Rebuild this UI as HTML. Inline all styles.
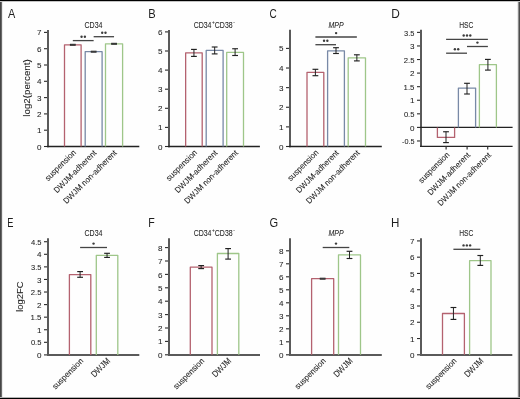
<!DOCTYPE html>
<html><head><meta charset="utf-8"><style>
html,body{margin:0;padding:0;background:#fff;}
svg{display:block;font-family:"Liberation Sans", sans-serif;will-change:transform;}
text{stroke:#1e1e1e;stroke-width:0.06px;}
text.L{stroke:none;}
text.T{stroke-width:0.06px;}
</style></head><body>
<svg width="520" height="399" viewBox="0 0 520 399">
<rect x="0" y="0" width="520" height="399" fill="#fefefe"/>
<line x1="48.00" y1="30.00" x2="48.00" y2="147.15" stroke="#5a5a5a" stroke-width="2" stroke-linecap="butt"/>
<line x1="44.00" y1="146.50" x2="47.00" y2="146.50" stroke="#2a2a2a" stroke-width="1.1" stroke-linecap="butt"/>
<text x="36.99" y="149.64" font-size="8.1" fill="#1e1e1e" textLength="4.51" lengthAdjust="spacingAndGlyphs" class="T">0</text>
<line x1="44.00" y1="130.20" x2="47.00" y2="130.20" stroke="#2a2a2a" stroke-width="1.1" stroke-linecap="butt"/>
<text x="37.07" y="133.29" font-size="8.1" fill="#1e1e1e" textLength="4.51" lengthAdjust="spacingAndGlyphs" class="T">1</text>
<line x1="44.00" y1="113.90" x2="47.00" y2="113.90" stroke="#2a2a2a" stroke-width="1.1" stroke-linecap="butt"/>
<text x="37.07" y="117.03" font-size="8.1" fill="#1e1e1e" textLength="4.51" lengthAdjust="spacingAndGlyphs" class="T">2</text>
<line x1="44.00" y1="97.60" x2="47.00" y2="97.60" stroke="#2a2a2a" stroke-width="1.1" stroke-linecap="butt"/>
<text x="37.07" y="100.73" font-size="8.1" fill="#1e1e1e" textLength="4.51" lengthAdjust="spacingAndGlyphs" class="T">3</text>
<line x1="44.00" y1="81.30" x2="47.00" y2="81.30" stroke="#2a2a2a" stroke-width="1.1" stroke-linecap="butt"/>
<text x="36.91" y="84.39" font-size="8.1" fill="#1e1e1e" textLength="4.51" lengthAdjust="spacingAndGlyphs" class="T">4</text>
<line x1="44.00" y1="65.00" x2="47.00" y2="65.00" stroke="#2a2a2a" stroke-width="1.1" stroke-linecap="butt"/>
<text x="37.07" y="68.09" font-size="8.1" fill="#1e1e1e" textLength="4.51" lengthAdjust="spacingAndGlyphs" class="T">5</text>
<line x1="44.00" y1="48.70" x2="47.00" y2="48.70" stroke="#2a2a2a" stroke-width="1.1" stroke-linecap="butt"/>
<text x="37.07" y="51.83" font-size="8.1" fill="#1e1e1e" textLength="4.51" lengthAdjust="spacingAndGlyphs" class="T">6</text>
<line x1="44.00" y1="32.40" x2="47.00" y2="32.40" stroke="#2a2a2a" stroke-width="1.1" stroke-linecap="butt"/>
<text x="37.07" y="35.49" font-size="8.1" fill="#1e1e1e" textLength="4.51" lengthAdjust="spacingAndGlyphs" class="T">7</text>
<line x1="47.00" y1="146.50" x2="139.30" y2="146.50" stroke="#222" stroke-width="1.3" stroke-linecap="butt"/>
<path d="M64.5 146.5 L64.5 44.8 L81.1 44.8 L81.1 146.5" fill="none" stroke="#b4626f" stroke-width="1.3" stroke-linejoin="round"/>
<path d="M85.2 146.5 L85.2 51.7 L102.1 51.7 L102.1 146.5" fill="none" stroke="#7889a6" stroke-width="1.3" stroke-linejoin="round"/>
<path d="M105.5 146.5 L105.5 43.8 L122.6 43.8 L122.6 146.5" fill="none" stroke="#9ec689" stroke-width="1.3" stroke-linejoin="round"/>
<line x1="69.90" y1="44.80" x2="75.70" y2="44.80" stroke="#2a2a2a" stroke-width="2.0" stroke-linecap="butt"/>
<line x1="70.50" y1="44.80" x2="75.10" y2="44.80" stroke="#555" stroke-width="0.5" stroke-linecap="butt"/>
<line x1="90.75" y1="51.70" x2="96.55" y2="51.70" stroke="#2a2a2a" stroke-width="2.0" stroke-linecap="butt"/>
<line x1="91.35" y1="51.70" x2="95.95" y2="51.70" stroke="#555" stroke-width="0.5" stroke-linecap="butt"/>
<line x1="111.15" y1="43.80" x2="116.95" y2="43.80" stroke="#2a2a2a" stroke-width="2.0" stroke-linecap="butt"/>
<line x1="111.75" y1="43.80" x2="116.35" y2="43.80" stroke="#555" stroke-width="0.5" stroke-linecap="butt"/>
<line x1="72.80" y1="40.60" x2="93.65" y2="40.60" stroke="#444" stroke-width="1.3" stroke-linecap="butt"/>
<circle cx="81.57" cy="36.70" r="1.2" fill="#3c3c3c"/>
<circle cx="84.88" cy="36.70" r="1.2" fill="#3c3c3c"/>
<line x1="93.65" y1="36.70" x2="114.05" y2="36.70" stroke="#444" stroke-width="1.3" stroke-linecap="butt"/>
<circle cx="102.20" cy="32.80" r="1.2" fill="#3c3c3c"/>
<circle cx="105.50" cy="32.80" r="1.2" fill="#3c3c3c"/>
<text x="84.45" y="27.95" font-size="8.6" fill="#1e1e1e" textLength="18.04" lengthAdjust="spacingAndGlyphs" class="T">CD34</text>
<text x="7.90" y="17.80" font-size="12.4" fill="#1e1e1e" textLength="7.28" lengthAdjust="spacingAndGlyphs" class="L">A</text>
<text x="-39.54" y="0" font-size="8.2" fill="#1e1e1e" textLength="40.09" lengthAdjust="spacingAndGlyphs" transform="translate(76.10 153.50) rotate(-45)">suspension</text>
<text x="-56.52" y="0" font-size="8.2" fill="#1e1e1e" textLength="56.60" lengthAdjust="spacingAndGlyphs" transform="translate(96.95 153.50) rotate(-45)">DWJM-adherent</text>
<text x="-71.82" y="0" font-size="8.2" fill="#1e1e1e" textLength="71.87" lengthAdjust="spacingAndGlyphs" transform="translate(117.35 153.50) rotate(-45)">DWJM non-adherent</text>
<line x1="169.00" y1="30.00" x2="169.00" y2="147.15" stroke="#5a5a5a" stroke-width="2" stroke-linecap="butt"/>
<line x1="165.00" y1="146.50" x2="168.00" y2="146.50" stroke="#2a2a2a" stroke-width="1.1" stroke-linecap="butt"/>
<text x="157.99" y="149.64" font-size="8.1" fill="#1e1e1e" textLength="4.51" lengthAdjust="spacingAndGlyphs" class="T">0</text>
<line x1="165.00" y1="127.40" x2="168.00" y2="127.40" stroke="#2a2a2a" stroke-width="1.1" stroke-linecap="butt"/>
<text x="158.07" y="130.49" font-size="8.1" fill="#1e1e1e" textLength="4.51" lengthAdjust="spacingAndGlyphs" class="T">1</text>
<line x1="165.00" y1="108.30" x2="168.00" y2="108.30" stroke="#2a2a2a" stroke-width="1.1" stroke-linecap="butt"/>
<text x="158.07" y="111.43" font-size="8.1" fill="#1e1e1e" textLength="4.51" lengthAdjust="spacingAndGlyphs" class="T">2</text>
<line x1="165.00" y1="89.20" x2="168.00" y2="89.20" stroke="#2a2a2a" stroke-width="1.1" stroke-linecap="butt"/>
<text x="158.07" y="92.33" font-size="8.1" fill="#1e1e1e" textLength="4.51" lengthAdjust="spacingAndGlyphs" class="T">3</text>
<line x1="165.00" y1="70.10" x2="168.00" y2="70.10" stroke="#2a2a2a" stroke-width="1.1" stroke-linecap="butt"/>
<text x="157.91" y="73.19" font-size="8.1" fill="#1e1e1e" textLength="4.51" lengthAdjust="spacingAndGlyphs" class="T">4</text>
<line x1="165.00" y1="51.00" x2="168.00" y2="51.00" stroke="#2a2a2a" stroke-width="1.1" stroke-linecap="butt"/>
<text x="158.07" y="54.09" font-size="8.1" fill="#1e1e1e" textLength="4.51" lengthAdjust="spacingAndGlyphs" class="T">5</text>
<line x1="165.00" y1="31.90" x2="168.00" y2="31.90" stroke="#2a2a2a" stroke-width="1.1" stroke-linecap="butt"/>
<text x="158.07" y="35.03" font-size="8.1" fill="#1e1e1e" textLength="4.51" lengthAdjust="spacingAndGlyphs" class="T">6</text>
<line x1="168.00" y1="146.50" x2="259.90" y2="146.50" stroke="#222" stroke-width="1.3" stroke-linecap="butt"/>
<path d="M185.65 146.5 L185.65 52.8 L202.2 52.8 L202.2 146.5" fill="none" stroke="#b4626f" stroke-width="1.3" stroke-linejoin="round"/>
<path d="M206.2 146.5 L206.2 50.4 L223.1 50.4 L223.1 146.5" fill="none" stroke="#7889a6" stroke-width="1.3" stroke-linejoin="round"/>
<path d="M226.7 146.5 L226.7 52.4 L243.5 52.4 L243.5 146.5" fill="none" stroke="#9ec689" stroke-width="1.3" stroke-linejoin="round"/>
<line x1="193.93" y1="49.40" x2="193.93" y2="56.40" stroke="#2a2a2a" stroke-width="1.05" stroke-linecap="butt"/>
<line x1="191.03" y1="49.40" x2="196.83" y2="49.40" stroke="#222" stroke-width="1.15" stroke-linecap="butt"/>
<line x1="191.03" y1="56.40" x2="196.83" y2="56.40" stroke="#222" stroke-width="1.15" stroke-linecap="butt"/>
<line x1="214.65" y1="47.00" x2="214.65" y2="53.90" stroke="#2a2a2a" stroke-width="1.05" stroke-linecap="butt"/>
<line x1="211.75" y1="47.00" x2="217.55" y2="47.00" stroke="#222" stroke-width="1.15" stroke-linecap="butt"/>
<line x1="211.75" y1="53.90" x2="217.55" y2="53.90" stroke="#222" stroke-width="1.15" stroke-linecap="butt"/>
<line x1="235.10" y1="48.75" x2="235.10" y2="55.50" stroke="#2a2a2a" stroke-width="1.05" stroke-linecap="butt"/>
<line x1="232.20" y1="48.75" x2="238.00" y2="48.75" stroke="#222" stroke-width="1.15" stroke-linecap="butt"/>
<line x1="232.20" y1="55.50" x2="238.00" y2="55.50" stroke="#222" stroke-width="1.15" stroke-linecap="butt"/>
<text x="193.65" y="27.95" font-size="8.6" fill="#1e1e1e" textLength="17.84" lengthAdjust="spacingAndGlyphs" class="T">CD34</text>
<text x="212.06" y="23.95" font-size="5.2" fill="#1e1e1e" textLength="2.80" lengthAdjust="spacingAndGlyphs" class="T">+</text>
<text x="214.85" y="27.95" font-size="8.6" fill="#1e1e1e" textLength="17.77" lengthAdjust="spacingAndGlyphs" class="T">CD38</text>
<text x="233.21" y="24.25" font-size="5.6" fill="#1e1e1e" textLength="1.60" lengthAdjust="spacingAndGlyphs" class="T">-</text>
<text x="148.31" y="17.80" font-size="12.4" fill="#1e1e1e" textLength="7.43" lengthAdjust="spacingAndGlyphs" class="L">B</text>
<text x="-39.54" y="0" font-size="8.2" fill="#1e1e1e" textLength="40.09" lengthAdjust="spacingAndGlyphs" transform="translate(197.23 153.50) rotate(-45)">suspension</text>
<text x="-56.52" y="0" font-size="8.2" fill="#1e1e1e" textLength="56.60" lengthAdjust="spacingAndGlyphs" transform="translate(217.95 153.50) rotate(-45)">DWJM-adherent</text>
<text x="-71.82" y="0" font-size="8.2" fill="#1e1e1e" textLength="71.87" lengthAdjust="spacingAndGlyphs" transform="translate(238.40 153.50) rotate(-45)">DWJM non-adherent</text>
<line x1="290.00" y1="29.80" x2="290.00" y2="147.15" stroke="#5a5a5a" stroke-width="2" stroke-linecap="butt"/>
<line x1="286.00" y1="146.50" x2="289.00" y2="146.50" stroke="#2a2a2a" stroke-width="1.1" stroke-linecap="butt"/>
<text x="278.99" y="149.64" font-size="8.1" fill="#1e1e1e" textLength="4.51" lengthAdjust="spacingAndGlyphs" class="T">0</text>
<line x1="286.00" y1="126.88" x2="289.00" y2="126.88" stroke="#2a2a2a" stroke-width="1.1" stroke-linecap="butt"/>
<text x="279.07" y="129.97" font-size="8.1" fill="#1e1e1e" textLength="4.51" lengthAdjust="spacingAndGlyphs" class="T">1</text>
<line x1="286.00" y1="107.26" x2="289.00" y2="107.26" stroke="#2a2a2a" stroke-width="1.1" stroke-linecap="butt"/>
<text x="279.07" y="110.39" font-size="8.1" fill="#1e1e1e" textLength="4.51" lengthAdjust="spacingAndGlyphs" class="T">2</text>
<line x1="286.00" y1="87.64" x2="289.00" y2="87.64" stroke="#2a2a2a" stroke-width="1.1" stroke-linecap="butt"/>
<text x="279.07" y="90.77" font-size="8.1" fill="#1e1e1e" textLength="4.51" lengthAdjust="spacingAndGlyphs" class="T">3</text>
<line x1="286.00" y1="68.02" x2="289.00" y2="68.02" stroke="#2a2a2a" stroke-width="1.1" stroke-linecap="butt"/>
<text x="278.91" y="71.11" font-size="8.1" fill="#1e1e1e" textLength="4.51" lengthAdjust="spacingAndGlyphs" class="T">4</text>
<line x1="286.00" y1="48.40" x2="289.00" y2="48.40" stroke="#2a2a2a" stroke-width="1.1" stroke-linecap="butt"/>
<text x="279.07" y="51.49" font-size="8.1" fill="#1e1e1e" textLength="4.51" lengthAdjust="spacingAndGlyphs" class="T">5</text>
<line x1="289.00" y1="146.50" x2="381.80" y2="146.50" stroke="#222" stroke-width="1.3" stroke-linecap="butt"/>
<path d="M307 146.5 L307 72.3 L323.8 72.3 L323.8 146.5" fill="none" stroke="#b4626f" stroke-width="1.3" stroke-linejoin="round"/>
<path d="M327.6 146.5 L327.6 50.8 L344.4 50.8 L344.4 146.5" fill="none" stroke="#7889a6" stroke-width="1.3" stroke-linejoin="round"/>
<path d="M348.2 146.5 L348.2 57.8 L365.5 57.8 L365.5 146.5" fill="none" stroke="#9ec689" stroke-width="1.3" stroke-linejoin="round"/>
<line x1="315.40" y1="69.30" x2="315.40" y2="75.70" stroke="#2a2a2a" stroke-width="1.05" stroke-linecap="butt"/>
<line x1="312.50" y1="69.30" x2="318.30" y2="69.30" stroke="#222" stroke-width="1.15" stroke-linecap="butt"/>
<line x1="312.50" y1="75.70" x2="318.30" y2="75.70" stroke="#222" stroke-width="1.15" stroke-linecap="butt"/>
<line x1="336.00" y1="47.70" x2="336.00" y2="53.50" stroke="#2a2a2a" stroke-width="1.05" stroke-linecap="butt"/>
<line x1="333.10" y1="47.70" x2="338.90" y2="47.70" stroke="#222" stroke-width="1.15" stroke-linecap="butt"/>
<line x1="333.10" y1="53.50" x2="338.90" y2="53.50" stroke="#222" stroke-width="1.15" stroke-linecap="butt"/>
<line x1="356.85" y1="54.80" x2="356.85" y2="60.90" stroke="#2a2a2a" stroke-width="1.05" stroke-linecap="butt"/>
<line x1="353.95" y1="54.80" x2="359.75" y2="54.80" stroke="#222" stroke-width="1.15" stroke-linecap="butt"/>
<line x1="353.95" y1="60.90" x2="359.75" y2="60.90" stroke="#222" stroke-width="1.15" stroke-linecap="butt"/>
<line x1="315.40" y1="44.70" x2="336.00" y2="44.70" stroke="#444" stroke-width="1.3" stroke-linecap="butt"/>
<circle cx="324.05" cy="40.80" r="1.2" fill="#3c3c3c"/>
<circle cx="327.35" cy="40.80" r="1.2" fill="#3c3c3c"/>
<line x1="315.40" y1="37.00" x2="356.85" y2="37.00" stroke="#444" stroke-width="1.3" stroke-linecap="butt"/>
<circle cx="336.12" cy="33.10" r="1.2" fill="#3c3c3c"/>
<text x="328.49" y="27.95" font-size="8.6" font-style="italic" fill="#1e1e1e" textLength="15.06" lengthAdjust="spacingAndGlyphs" class="T">MPP</text>
<text x="269.60" y="17.80" font-size="12.4" fill="#1e1e1e" textLength="7.22" lengthAdjust="spacingAndGlyphs" class="L">C</text>
<text x="-39.54" y="0" font-size="8.2" fill="#1e1e1e" textLength="40.09" lengthAdjust="spacingAndGlyphs" transform="translate(318.70 153.50) rotate(-45)">suspension</text>
<text x="-56.52" y="0" font-size="8.2" fill="#1e1e1e" textLength="56.60" lengthAdjust="spacingAndGlyphs" transform="translate(339.30 153.50) rotate(-45)">DWJM-adherent</text>
<text x="-71.82" y="0" font-size="8.2" fill="#1e1e1e" textLength="71.87" lengthAdjust="spacingAndGlyphs" transform="translate(360.15 153.50) rotate(-45)">DWJM non-adherent</text>
<line x1="421.00" y1="29.80" x2="421.00" y2="147.05" stroke="#5a5a5a" stroke-width="2" stroke-linecap="butt"/>
<line x1="417.00" y1="140.97" x2="420.00" y2="140.97" stroke="#2a2a2a" stroke-width="1.1" stroke-linecap="butt"/>
<text x="402.01" y="144.11" font-size="8.1" fill="#1e1e1e" textLength="12.50" lengthAdjust="spacingAndGlyphs" class="T">-0.5</text>
<line x1="417.00" y1="127.40" x2="420.00" y2="127.40" stroke="#2a2a2a" stroke-width="1.1" stroke-linecap="butt"/>
<text x="409.99" y="130.54" font-size="8.1" fill="#1e1e1e" textLength="4.51" lengthAdjust="spacingAndGlyphs" class="T">0</text>
<line x1="417.00" y1="113.83" x2="420.00" y2="113.83" stroke="#2a2a2a" stroke-width="1.1" stroke-linecap="butt"/>
<text x="403.89" y="116.96" font-size="8.1" fill="#1e1e1e" textLength="10.61" lengthAdjust="spacingAndGlyphs" class="T">0.5</text>
<line x1="417.00" y1="100.25" x2="420.00" y2="100.25" stroke="#2a2a2a" stroke-width="1.1" stroke-linecap="butt"/>
<text x="410.07" y="103.34" font-size="8.1" fill="#1e1e1e" textLength="4.51" lengthAdjust="spacingAndGlyphs" class="T">1</text>
<line x1="417.00" y1="86.68" x2="420.00" y2="86.68" stroke="#2a2a2a" stroke-width="1.1" stroke-linecap="butt"/>
<text x="403.57" y="89.77" font-size="8.1" fill="#1e1e1e" textLength="10.95" lengthAdjust="spacingAndGlyphs" class="T">1.5</text>
<line x1="417.00" y1="73.10" x2="420.00" y2="73.10" stroke="#2a2a2a" stroke-width="1.1" stroke-linecap="butt"/>
<text x="410.07" y="76.23" font-size="8.1" fill="#1e1e1e" textLength="4.51" lengthAdjust="spacingAndGlyphs" class="T">2</text>
<line x1="417.00" y1="59.53" x2="420.00" y2="59.53" stroke="#2a2a2a" stroke-width="1.1" stroke-linecap="butt"/>
<text x="403.82" y="62.66" font-size="8.1" fill="#1e1e1e" textLength="10.69" lengthAdjust="spacingAndGlyphs" class="T">2.5</text>
<line x1="417.00" y1="45.95" x2="420.00" y2="45.95" stroke="#2a2a2a" stroke-width="1.1" stroke-linecap="butt"/>
<text x="410.07" y="49.09" font-size="8.1" fill="#1e1e1e" textLength="4.51" lengthAdjust="spacingAndGlyphs" class="T">3</text>
<line x1="417.00" y1="32.38" x2="420.00" y2="32.38" stroke="#2a2a2a" stroke-width="1.1" stroke-linecap="butt"/>
<text x="404.10" y="35.51" font-size="8.1" fill="#1e1e1e" textLength="10.40" lengthAdjust="spacingAndGlyphs" class="T">3.5</text>
<line x1="420.00" y1="146.40" x2="512.60" y2="146.40" stroke="#222" stroke-width="1.3" stroke-linecap="butt"/>
<line x1="420.00" y1="127.40" x2="512.60" y2="127.40" stroke="#222" stroke-width="1.3" stroke-linecap="butt"/>
<line x1="446.10" y1="146.40" x2="446.10" y2="149.60" stroke="#333" stroke-width="1.2" stroke-linecap="butt"/>
<line x1="467.10" y1="146.40" x2="467.10" y2="149.60" stroke="#333" stroke-width="1.2" stroke-linecap="butt"/>
<line x1="487.70" y1="146.40" x2="487.70" y2="149.60" stroke="#333" stroke-width="1.2" stroke-linecap="butt"/>
<path d="M437.4 127.4 L437.4 137.4 L454.6 137.4 L454.6 127.4" fill="none" stroke="#b4626f" stroke-width="1.3" stroke-linejoin="round"/>
<path d="M458.4 127.4 L458.4 88.1 L475.6 88.1 L475.6 127.4" fill="none" stroke="#7889a6" stroke-width="1.3" stroke-linejoin="round"/>
<path d="M479.4 127.4 L479.4 64.7 L496.4 64.7 L496.4 127.4" fill="none" stroke="#9ec689" stroke-width="1.3" stroke-linejoin="round"/>
<line x1="446.00" y1="131.75" x2="446.00" y2="142.60" stroke="#2a2a2a" stroke-width="1.05" stroke-linecap="butt"/>
<line x1="443.10" y1="131.75" x2="448.90" y2="131.75" stroke="#222" stroke-width="1.15" stroke-linecap="butt"/>
<line x1="443.10" y1="142.60" x2="448.90" y2="142.60" stroke="#222" stroke-width="1.15" stroke-linecap="butt"/>
<line x1="467.00" y1="83.30" x2="467.00" y2="94.00" stroke="#2a2a2a" stroke-width="1.05" stroke-linecap="butt"/>
<line x1="464.10" y1="83.30" x2="469.90" y2="83.30" stroke="#222" stroke-width="1.15" stroke-linecap="butt"/>
<line x1="464.10" y1="94.00" x2="469.90" y2="94.00" stroke="#222" stroke-width="1.15" stroke-linecap="butt"/>
<line x1="487.90" y1="59.40" x2="487.90" y2="70.10" stroke="#2a2a2a" stroke-width="1.05" stroke-linecap="butt"/>
<line x1="485.00" y1="59.40" x2="490.80" y2="59.40" stroke="#222" stroke-width="1.15" stroke-linecap="butt"/>
<line x1="485.00" y1="70.10" x2="490.80" y2="70.10" stroke="#222" stroke-width="1.15" stroke-linecap="butt"/>
<line x1="446.10" y1="53.20" x2="467.00" y2="53.20" stroke="#444" stroke-width="1.3" stroke-linecap="butt"/>
<circle cx="454.90" cy="49.30" r="1.2" fill="#3c3c3c"/>
<circle cx="458.20" cy="49.30" r="1.2" fill="#3c3c3c"/>
<line x1="467.00" y1="46.50" x2="487.90" y2="46.50" stroke="#444" stroke-width="1.3" stroke-linecap="butt"/>
<circle cx="477.45" cy="42.60" r="1.2" fill="#3c3c3c"/>
<line x1="446.10" y1="39.40" x2="487.90" y2="39.40" stroke="#444" stroke-width="1.3" stroke-linecap="butt"/>
<circle cx="463.70" cy="35.50" r="1.2" fill="#3c3c3c"/>
<circle cx="467.00" cy="35.50" r="1.2" fill="#3c3c3c"/>
<circle cx="470.30" cy="35.50" r="1.2" fill="#3c3c3c"/>
<text x="459.26" y="27.95" font-size="8.6" fill="#1e1e1e" textLength="14.22" lengthAdjust="spacingAndGlyphs" class="T">HSC</text>
<text x="391.15" y="17.80" font-size="12.4" fill="#1e1e1e" textLength="8.57" lengthAdjust="spacingAndGlyphs" class="L">D</text>
<text x="-39.54" y="0" font-size="8.2" fill="#1e1e1e" textLength="40.09" lengthAdjust="spacingAndGlyphs" transform="translate(449.60 155.70) rotate(-45)">suspension</text>
<text x="-56.52" y="0" font-size="8.2" fill="#1e1e1e" textLength="56.60" lengthAdjust="spacingAndGlyphs" transform="translate(470.60 155.70) rotate(-45)">DWJM-adherent</text>
<text x="-71.82" y="0" font-size="8.2" fill="#1e1e1e" textLength="71.87" lengthAdjust="spacingAndGlyphs" transform="translate(491.50 155.70) rotate(-45)">DWJM non-adherent</text>
<line x1="48.00" y1="238.30" x2="48.00" y2="356.00" stroke="#5a5a5a" stroke-width="2" stroke-linecap="butt"/>
<line x1="44.00" y1="354.90" x2="47.00" y2="354.90" stroke="#2a2a2a" stroke-width="1.1" stroke-linecap="butt"/>
<text x="36.99" y="358.03" font-size="8.1" fill="#1e1e1e" textLength="4.51" lengthAdjust="spacingAndGlyphs" class="T">0</text>
<line x1="44.00" y1="342.32" x2="47.00" y2="342.32" stroke="#2a2a2a" stroke-width="1.1" stroke-linecap="butt"/>
<text x="30.89" y="345.46" font-size="8.1" fill="#1e1e1e" textLength="10.61" lengthAdjust="spacingAndGlyphs" class="T">0.5</text>
<line x1="44.00" y1="329.75" x2="47.00" y2="329.75" stroke="#2a2a2a" stroke-width="1.1" stroke-linecap="butt"/>
<text x="37.07" y="332.84" font-size="8.1" fill="#1e1e1e" textLength="4.51" lengthAdjust="spacingAndGlyphs" class="T">1</text>
<line x1="44.00" y1="317.17" x2="47.00" y2="317.17" stroke="#2a2a2a" stroke-width="1.1" stroke-linecap="butt"/>
<text x="30.57" y="320.27" font-size="8.1" fill="#1e1e1e" textLength="10.95" lengthAdjust="spacingAndGlyphs" class="T">1.5</text>
<line x1="44.00" y1="304.60" x2="47.00" y2="304.60" stroke="#2a2a2a" stroke-width="1.1" stroke-linecap="butt"/>
<text x="37.07" y="307.73" font-size="8.1" fill="#1e1e1e" textLength="4.51" lengthAdjust="spacingAndGlyphs" class="T">2</text>
<line x1="44.00" y1="292.02" x2="47.00" y2="292.02" stroke="#2a2a2a" stroke-width="1.1" stroke-linecap="butt"/>
<text x="30.82" y="295.16" font-size="8.1" fill="#1e1e1e" textLength="10.69" lengthAdjust="spacingAndGlyphs" class="T">2.5</text>
<line x1="44.00" y1="279.45" x2="47.00" y2="279.45" stroke="#2a2a2a" stroke-width="1.1" stroke-linecap="butt"/>
<text x="37.07" y="282.58" font-size="8.1" fill="#1e1e1e" textLength="4.51" lengthAdjust="spacingAndGlyphs" class="T">3</text>
<line x1="44.00" y1="266.88" x2="47.00" y2="266.88" stroke="#2a2a2a" stroke-width="1.1" stroke-linecap="butt"/>
<text x="31.10" y="270.01" font-size="8.1" fill="#1e1e1e" textLength="10.40" lengthAdjust="spacingAndGlyphs" class="T">3.5</text>
<line x1="44.00" y1="254.30" x2="47.00" y2="254.30" stroke="#2a2a2a" stroke-width="1.1" stroke-linecap="butt"/>
<text x="36.91" y="257.39" font-size="8.1" fill="#1e1e1e" textLength="4.51" lengthAdjust="spacingAndGlyphs" class="T">4</text>
<line x1="44.00" y1="241.72" x2="47.00" y2="241.72" stroke="#2a2a2a" stroke-width="1.1" stroke-linecap="butt"/>
<text x="30.95" y="244.82" font-size="8.1" fill="#1e1e1e" textLength="10.56" lengthAdjust="spacingAndGlyphs" class="T">4.5</text>
<line x1="47.00" y1="355.00" x2="139.30" y2="355.00" stroke="#5a5a5a" stroke-width="2" stroke-linecap="butt"/>
<path d="M69.4 354.9 L69.4 274.6 L90.8 274.6 L90.8 354.9" fill="none" stroke="#b4626f" stroke-width="1.3" stroke-linejoin="round"/>
<path d="M96.3 354.9 L96.3 255.3 L117.8 255.3 L117.8 354.9" fill="none" stroke="#9ec689" stroke-width="1.3" stroke-linejoin="round"/>
<line x1="80.10" y1="271.60" x2="80.10" y2="277.30" stroke="#2a2a2a" stroke-width="1.05" stroke-linecap="butt"/>
<line x1="77.20" y1="271.60" x2="83.00" y2="271.60" stroke="#222" stroke-width="1.15" stroke-linecap="butt"/>
<line x1="77.20" y1="277.30" x2="83.00" y2="277.30" stroke="#222" stroke-width="1.15" stroke-linecap="butt"/>
<line x1="107.05" y1="253.30" x2="107.05" y2="257.40" stroke="#2a2a2a" stroke-width="1.05" stroke-linecap="butt"/>
<line x1="104.15" y1="253.30" x2="109.95" y2="253.30" stroke="#222" stroke-width="1.15" stroke-linecap="butt"/>
<line x1="104.15" y1="257.40" x2="109.95" y2="257.40" stroke="#222" stroke-width="1.15" stroke-linecap="butt"/>
<line x1="80.10" y1="247.50" x2="107.00" y2="247.50" stroke="#444" stroke-width="1.3" stroke-linecap="butt"/>
<circle cx="93.55" cy="243.60" r="1.2" fill="#3c3c3c"/>
<text x="84.45" y="235.95" font-size="8.6" fill="#1e1e1e" textLength="18.04" lengthAdjust="spacingAndGlyphs" class="T">CD34</text>
<text x="7.36" y="226.60" font-size="12.4" fill="#1e1e1e" textLength="6.18" lengthAdjust="spacingAndGlyphs" class="L">E</text>
<text x="-39.54" y="0" font-size="8.2" fill="#1e1e1e" textLength="40.09" lengthAdjust="spacingAndGlyphs" transform="translate(83.40 361.90) rotate(-45)">suspension</text>
<text x="-22.52" y="0" font-size="8.8" fill="#1e1e1e" textLength="23.13" lengthAdjust="spacingAndGlyphs" transform="translate(110.35 361.90) rotate(-45)">DWJM</text>
<line x1="169.00" y1="238.30" x2="169.00" y2="356.00" stroke="#5a5a5a" stroke-width="2" stroke-linecap="butt"/>
<line x1="165.00" y1="354.80" x2="168.00" y2="354.80" stroke="#2a2a2a" stroke-width="1.1" stroke-linecap="butt"/>
<text x="157.99" y="357.94" font-size="8.1" fill="#1e1e1e" textLength="4.51" lengthAdjust="spacingAndGlyphs" class="T">0</text>
<line x1="165.00" y1="341.40" x2="168.00" y2="341.40" stroke="#2a2a2a" stroke-width="1.1" stroke-linecap="butt"/>
<text x="158.07" y="344.49" font-size="8.1" fill="#1e1e1e" textLength="4.51" lengthAdjust="spacingAndGlyphs" class="T">1</text>
<line x1="165.00" y1="328.00" x2="168.00" y2="328.00" stroke="#2a2a2a" stroke-width="1.1" stroke-linecap="butt"/>
<text x="158.07" y="331.13" font-size="8.1" fill="#1e1e1e" textLength="4.51" lengthAdjust="spacingAndGlyphs" class="T">2</text>
<line x1="165.00" y1="314.60" x2="168.00" y2="314.60" stroke="#2a2a2a" stroke-width="1.1" stroke-linecap="butt"/>
<text x="158.07" y="317.74" font-size="8.1" fill="#1e1e1e" textLength="4.51" lengthAdjust="spacingAndGlyphs" class="T">3</text>
<line x1="165.00" y1="301.20" x2="168.00" y2="301.20" stroke="#2a2a2a" stroke-width="1.1" stroke-linecap="butt"/>
<text x="157.91" y="304.29" font-size="8.1" fill="#1e1e1e" textLength="4.51" lengthAdjust="spacingAndGlyphs" class="T">4</text>
<line x1="165.00" y1="287.80" x2="168.00" y2="287.80" stroke="#2a2a2a" stroke-width="1.1" stroke-linecap="butt"/>
<text x="158.07" y="290.89" font-size="8.1" fill="#1e1e1e" textLength="4.51" lengthAdjust="spacingAndGlyphs" class="T">5</text>
<line x1="165.00" y1="274.40" x2="168.00" y2="274.40" stroke="#2a2a2a" stroke-width="1.1" stroke-linecap="butt"/>
<text x="158.07" y="277.53" font-size="8.1" fill="#1e1e1e" textLength="4.51" lengthAdjust="spacingAndGlyphs" class="T">6</text>
<line x1="165.00" y1="261.00" x2="168.00" y2="261.00" stroke="#2a2a2a" stroke-width="1.1" stroke-linecap="butt"/>
<text x="158.07" y="264.09" font-size="8.1" fill="#1e1e1e" textLength="4.51" lengthAdjust="spacingAndGlyphs" class="T">7</text>
<line x1="165.00" y1="247.60" x2="168.00" y2="247.60" stroke="#2a2a2a" stroke-width="1.1" stroke-linecap="butt"/>
<text x="158.07" y="250.74" font-size="8.1" fill="#1e1e1e" textLength="4.51" lengthAdjust="spacingAndGlyphs" class="T">8</text>
<line x1="168.00" y1="355.00" x2="260.00" y2="355.00" stroke="#5a5a5a" stroke-width="2" stroke-linecap="butt"/>
<path d="M190.3 354.8 L190.3 267.2 L212.0 267.2 L212.0 354.8" fill="none" stroke="#b4626f" stroke-width="1.3" stroke-linejoin="round"/>
<path d="M217.4 354.8 L217.4 253.5 L238.8 253.5 L238.8 354.8" fill="none" stroke="#9ec689" stroke-width="1.3" stroke-linejoin="round"/>
<line x1="201.15" y1="265.60" x2="201.15" y2="268.60" stroke="#2a2a2a" stroke-width="1.05" stroke-linecap="butt"/>
<line x1="198.25" y1="265.60" x2="204.05" y2="265.60" stroke="#222" stroke-width="1.15" stroke-linecap="butt"/>
<line x1="198.25" y1="268.60" x2="204.05" y2="268.60" stroke="#222" stroke-width="1.15" stroke-linecap="butt"/>
<line x1="228.10" y1="248.60" x2="228.10" y2="259.10" stroke="#2a2a2a" stroke-width="1.05" stroke-linecap="butt"/>
<line x1="225.20" y1="248.60" x2="231.00" y2="248.60" stroke="#222" stroke-width="1.15" stroke-linecap="butt"/>
<line x1="225.20" y1="259.10" x2="231.00" y2="259.10" stroke="#222" stroke-width="1.15" stroke-linecap="butt"/>
<text x="193.65" y="235.95" font-size="8.6" fill="#1e1e1e" textLength="17.84" lengthAdjust="spacingAndGlyphs" class="T">CD34</text>
<text x="212.06" y="231.95" font-size="5.2" fill="#1e1e1e" textLength="2.80" lengthAdjust="spacingAndGlyphs" class="T">+</text>
<text x="214.85" y="235.95" font-size="8.6" fill="#1e1e1e" textLength="17.77" lengthAdjust="spacingAndGlyphs" class="T">CD38</text>
<text x="233.21" y="232.25" font-size="5.6" fill="#1e1e1e" textLength="1.60" lengthAdjust="spacingAndGlyphs" class="T">-</text>
<text x="148.15" y="226.60" font-size="12.4" fill="#1e1e1e" textLength="6.48" lengthAdjust="spacingAndGlyphs" class="L">F</text>
<text x="-39.54" y="0" font-size="8.2" fill="#1e1e1e" textLength="40.09" lengthAdjust="spacingAndGlyphs" transform="translate(204.45 361.90) rotate(-45)">suspension</text>
<text x="-22.52" y="0" font-size="8.8" fill="#1e1e1e" textLength="23.13" lengthAdjust="spacingAndGlyphs" transform="translate(231.40 361.90) rotate(-45)">DWJM</text>
<line x1="290.00" y1="238.30" x2="290.00" y2="356.00" stroke="#5a5a5a" stroke-width="2" stroke-linecap="butt"/>
<line x1="286.00" y1="354.80" x2="289.00" y2="354.80" stroke="#2a2a2a" stroke-width="1.1" stroke-linecap="butt"/>
<text x="278.99" y="357.94" font-size="8.1" fill="#1e1e1e" textLength="4.51" lengthAdjust="spacingAndGlyphs" class="T">0</text>
<line x1="286.00" y1="341.80" x2="289.00" y2="341.80" stroke="#2a2a2a" stroke-width="1.1" stroke-linecap="butt"/>
<text x="279.07" y="344.89" font-size="8.1" fill="#1e1e1e" textLength="4.51" lengthAdjust="spacingAndGlyphs" class="T">1</text>
<line x1="286.00" y1="328.80" x2="289.00" y2="328.80" stroke="#2a2a2a" stroke-width="1.1" stroke-linecap="butt"/>
<text x="279.07" y="331.94" font-size="8.1" fill="#1e1e1e" textLength="4.51" lengthAdjust="spacingAndGlyphs" class="T">2</text>
<line x1="286.00" y1="315.80" x2="289.00" y2="315.80" stroke="#2a2a2a" stroke-width="1.1" stroke-linecap="butt"/>
<text x="279.07" y="318.94" font-size="8.1" fill="#1e1e1e" textLength="4.51" lengthAdjust="spacingAndGlyphs" class="T">3</text>
<line x1="286.00" y1="302.80" x2="289.00" y2="302.80" stroke="#2a2a2a" stroke-width="1.1" stroke-linecap="butt"/>
<text x="278.91" y="305.89" font-size="8.1" fill="#1e1e1e" textLength="4.51" lengthAdjust="spacingAndGlyphs" class="T">4</text>
<line x1="286.00" y1="289.80" x2="289.00" y2="289.80" stroke="#2a2a2a" stroke-width="1.1" stroke-linecap="butt"/>
<text x="279.07" y="292.89" font-size="8.1" fill="#1e1e1e" textLength="4.51" lengthAdjust="spacingAndGlyphs" class="T">5</text>
<line x1="286.00" y1="276.80" x2="289.00" y2="276.80" stroke="#2a2a2a" stroke-width="1.1" stroke-linecap="butt"/>
<text x="279.07" y="279.94" font-size="8.1" fill="#1e1e1e" textLength="4.51" lengthAdjust="spacingAndGlyphs" class="T">6</text>
<line x1="286.00" y1="263.80" x2="289.00" y2="263.80" stroke="#2a2a2a" stroke-width="1.1" stroke-linecap="butt"/>
<text x="279.07" y="266.89" font-size="8.1" fill="#1e1e1e" textLength="4.51" lengthAdjust="spacingAndGlyphs" class="T">7</text>
<line x1="286.00" y1="250.80" x2="289.00" y2="250.80" stroke="#2a2a2a" stroke-width="1.1" stroke-linecap="butt"/>
<text x="279.07" y="253.94" font-size="8.1" fill="#1e1e1e" textLength="4.51" lengthAdjust="spacingAndGlyphs" class="T">8</text>
<line x1="289.00" y1="355.00" x2="381.80" y2="355.00" stroke="#5a5a5a" stroke-width="2" stroke-linecap="butt"/>
<path d="M311.6 354.8 L311.6 278.7 L333.7 278.7 L333.7 354.8" fill="none" stroke="#b4626f" stroke-width="1.3" stroke-linejoin="round"/>
<path d="M338.5 354.8 L338.5 254.9 L360.5 254.9 L360.5 354.8" fill="none" stroke="#9ec689" stroke-width="1.3" stroke-linejoin="round"/>
<line x1="319.75" y1="278.70" x2="325.55" y2="278.70" stroke="#2a2a2a" stroke-width="2.0" stroke-linecap="butt"/>
<line x1="320.35" y1="278.70" x2="324.95" y2="278.70" stroke="#555" stroke-width="0.5" stroke-linecap="butt"/>
<line x1="349.50" y1="251.30" x2="349.50" y2="258.50" stroke="#2a2a2a" stroke-width="1.05" stroke-linecap="butt"/>
<line x1="346.60" y1="251.30" x2="352.40" y2="251.30" stroke="#222" stroke-width="1.15" stroke-linecap="butt"/>
<line x1="346.60" y1="258.50" x2="352.40" y2="258.50" stroke="#222" stroke-width="1.15" stroke-linecap="butt"/>
<line x1="322.70" y1="247.50" x2="349.30" y2="247.50" stroke="#444" stroke-width="1.3" stroke-linecap="butt"/>
<circle cx="336.00" cy="243.60" r="1.2" fill="#3c3c3c"/>
<text x="328.49" y="235.95" font-size="8.6" font-style="italic" fill="#1e1e1e" textLength="15.06" lengthAdjust="spacingAndGlyphs" class="T">MPP</text>
<text x="269.55" y="226.60" font-size="12.4" fill="#1e1e1e" textLength="8.62" lengthAdjust="spacingAndGlyphs" class="L">G</text>
<text x="-39.54" y="0" font-size="8.2" fill="#1e1e1e" textLength="40.09" lengthAdjust="spacingAndGlyphs" transform="translate(325.95 361.90) rotate(-45)">suspension</text>
<text x="-22.52" y="0" font-size="8.8" fill="#1e1e1e" textLength="23.13" lengthAdjust="spacingAndGlyphs" transform="translate(352.80 361.90) rotate(-45)">DWJM</text>
<line x1="421.00" y1="238.30" x2="421.00" y2="356.00" stroke="#5a5a5a" stroke-width="2" stroke-linecap="butt"/>
<line x1="417.00" y1="354.80" x2="420.00" y2="354.80" stroke="#2a2a2a" stroke-width="1.1" stroke-linecap="butt"/>
<text x="409.99" y="357.94" font-size="8.1" fill="#1e1e1e" textLength="4.51" lengthAdjust="spacingAndGlyphs" class="T">0</text>
<line x1="417.00" y1="338.53" x2="420.00" y2="338.53" stroke="#2a2a2a" stroke-width="1.1" stroke-linecap="butt"/>
<text x="410.07" y="341.62" font-size="8.1" fill="#1e1e1e" textLength="4.51" lengthAdjust="spacingAndGlyphs" class="T">1</text>
<line x1="417.00" y1="322.26" x2="420.00" y2="322.26" stroke="#2a2a2a" stroke-width="1.1" stroke-linecap="butt"/>
<text x="410.07" y="325.39" font-size="8.1" fill="#1e1e1e" textLength="4.51" lengthAdjust="spacingAndGlyphs" class="T">2</text>
<line x1="417.00" y1="305.99" x2="420.00" y2="305.99" stroke="#2a2a2a" stroke-width="1.1" stroke-linecap="butt"/>
<text x="410.07" y="309.12" font-size="8.1" fill="#1e1e1e" textLength="4.51" lengthAdjust="spacingAndGlyphs" class="T">3</text>
<line x1="417.00" y1="289.72" x2="420.00" y2="289.72" stroke="#2a2a2a" stroke-width="1.1" stroke-linecap="butt"/>
<text x="409.91" y="292.81" font-size="8.1" fill="#1e1e1e" textLength="4.51" lengthAdjust="spacingAndGlyphs" class="T">4</text>
<line x1="417.00" y1="273.45" x2="420.00" y2="273.45" stroke="#2a2a2a" stroke-width="1.1" stroke-linecap="butt"/>
<text x="410.07" y="276.54" font-size="8.1" fill="#1e1e1e" textLength="4.51" lengthAdjust="spacingAndGlyphs" class="T">5</text>
<line x1="417.00" y1="257.18" x2="420.00" y2="257.18" stroke="#2a2a2a" stroke-width="1.1" stroke-linecap="butt"/>
<text x="410.07" y="260.31" font-size="8.1" fill="#1e1e1e" textLength="4.51" lengthAdjust="spacingAndGlyphs" class="T">6</text>
<line x1="417.00" y1="240.91" x2="420.00" y2="240.91" stroke="#2a2a2a" stroke-width="1.1" stroke-linecap="butt"/>
<text x="410.07" y="244.00" font-size="8.1" fill="#1e1e1e" textLength="4.51" lengthAdjust="spacingAndGlyphs" class="T">7</text>
<line x1="420.00" y1="355.00" x2="512.30" y2="355.00" stroke="#5a5a5a" stroke-width="2" stroke-linecap="butt"/>
<path d="M442.5 354.8 L442.5 313.5 L464.4 313.5 L464.4 354.8" fill="none" stroke="#b4626f" stroke-width="1.3" stroke-linejoin="round"/>
<path d="M469.6 354.8 L469.6 260.6 L491.0 260.6 L491.0 354.8" fill="none" stroke="#9ec689" stroke-width="1.3" stroke-linejoin="round"/>
<line x1="453.45" y1="307.50" x2="453.45" y2="319.40" stroke="#2a2a2a" stroke-width="1.05" stroke-linecap="butt"/>
<line x1="450.55" y1="307.50" x2="456.35" y2="307.50" stroke="#222" stroke-width="1.15" stroke-linecap="butt"/>
<line x1="450.55" y1="319.40" x2="456.35" y2="319.40" stroke="#222" stroke-width="1.15" stroke-linecap="butt"/>
<line x1="480.30" y1="255.50" x2="480.30" y2="265.40" stroke="#2a2a2a" stroke-width="1.05" stroke-linecap="butt"/>
<line x1="477.40" y1="255.50" x2="483.20" y2="255.50" stroke="#222" stroke-width="1.15" stroke-linecap="butt"/>
<line x1="477.40" y1="265.40" x2="483.20" y2="265.40" stroke="#222" stroke-width="1.15" stroke-linecap="butt"/>
<line x1="453.40" y1="249.30" x2="480.30" y2="249.30" stroke="#444" stroke-width="1.3" stroke-linecap="butt"/>
<circle cx="463.55" cy="245.40" r="1.2" fill="#3c3c3c"/>
<circle cx="466.85" cy="245.40" r="1.2" fill="#3c3c3c"/>
<circle cx="470.15" cy="245.40" r="1.2" fill="#3c3c3c"/>
<text x="459.26" y="235.95" font-size="8.6" fill="#1e1e1e" textLength="14.22" lengthAdjust="spacingAndGlyphs" class="T">HSC</text>
<text x="390.97" y="226.60" font-size="12.4" fill="#1e1e1e" textLength="8.38" lengthAdjust="spacingAndGlyphs" class="L">H</text>
<text x="-39.54" y="0" font-size="8.2" fill="#1e1e1e" textLength="40.09" lengthAdjust="spacingAndGlyphs" transform="translate(456.75 361.90) rotate(-45)">suspension</text>
<text x="-22.52" y="0" font-size="8.8" fill="#1e1e1e" textLength="23.13" lengthAdjust="spacingAndGlyphs" transform="translate(483.60 361.90) rotate(-45)">DWJM</text>
<text x="-116.68" y="0" font-size="8.5" fill="#1e1e1e" textLength="57.39" lengthAdjust="spacingAndGlyphs" transform="translate(29.70 0) rotate(-90)">log2(percent)</text>
<text x="-311.76" y="0" font-size="8.6" fill="#1e1e1e" textLength="30.27" lengthAdjust="spacingAndGlyphs" transform="translate(22.80 0) rotate(-90)">log2FC</text>
<rect x="0" y="0" width="1" height="399" fill="#464646"/>
<rect x="1" y="0" width="1" height="399" fill="#6a6a6a"/>
<rect x="2" y="0" width="1" height="399" fill="#eaeaea"/>
<rect x="517" y="0" width="1" height="399" fill="#e8e8e8"/>
<rect x="518" y="0" width="1" height="399" fill="#8c8c8c"/>
<rect x="519" y="0" width="1" height="399" fill="#4c4c4c"/>
<rect x="0" y="0" width="520" height="1" fill="#000"/>
<rect x="0" y="1" width="520" height="1" fill="#c4c4c4"/>
<rect x="0" y="397" width="520" height="1" fill="#b4b4b4"/>
<rect x="0" y="398" width="520" height="1" fill="#000"/>
</svg>
</body></html>
